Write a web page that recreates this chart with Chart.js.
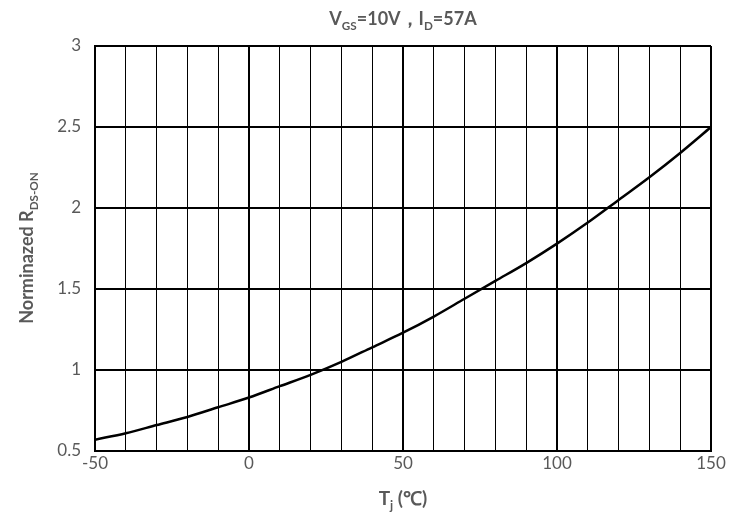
<!DOCTYPE html>
<html><head><meta charset="utf-8">
<script src="https://cdn.jsdelivr.net/npm/chart.js@4/dist/chart.umd.min.js"></script>
<style>html,body{margin:0;padding:0;background:#fff}#w{width:749px;height:527px}</style>
</head><body><div id="w"><canvas id="c"></canvas></div>
<script>
const tj = [-50,-40,-30,-20,-10,0,10,20,30,40,50,60,70,80,90,100,110,120,130,140,150];
const rds = [0.57,0.61,0.66,0.71,0.77,0.83,0.90,0.97,1.05,1.14,1.23,1.33,1.44,1.55,1.66,1.78,1.91,2.05,2.19,2.34,2.50];
const FONT = 'Lato, "Open Sans", sans-serif';
const GRAY = '#595959';
function drawSub(ctx, parts, x, y, size, align) {
  let w = 0;
  parts.forEach(p => { ctx.font = 'bold ' + (p[1] ? size*0.65 : size) + 'px ' + FONT; w += ctx.measureText(p[0]).width; });
  let cx = align === 'center' ? x - w/2 : x;
  ctx.textAlign = 'left'; ctx.textBaseline = 'alphabetic';
  parts.forEach(p => {
    ctx.font = 'bold ' + (p[1] ? size*0.65 : size) + 'px ' + FONT;
    ctx.fillText(p[0], cx, y + (p[1] ? size*0.25 : 0));
    cx += ctx.measureText(p[0]).width;
  });
}
const textPlugin = { id:'txt', afterDraw(chart){
  const ctx = chart.ctx; ctx.save(); ctx.fillStyle = GRAY;
  drawSub(ctx, [['V',0],['GS',1],['=10V，I',0],['D',1],['=57A',0]], 403, 25, 18, 'center');
  drawSub(ctx, [['T',0],['j',1],[' (℃)',0]], 403, 505, 19, 'center');
  ctx.translate(33, 248); ctx.rotate(-Math.PI/2);
  drawSub(ctx, [['Norminazed R',0],['DS-ON',1]], 0, 0, 18, 'center');
  ctx.restore();
}};
new Chart(document.getElementById('c'), {
  type:'line',
  data:{ datasets:[{ data: tj.map((x,i)=>({x, y:rds[i]})), borderColor:'#000', borderWidth:2.5, pointRadius:0, cubicInterpolationMode:'monotone', fill:false }]},
  options:{ responsive:true, maintainAspectRatio:false, animation:false,
    layout:{ padding:{ top:46, right:38, left:0, bottom:0 } },
    plugins:{ legend:{display:false}, tooltip:{enabled:false} },
    scales:{
      x:{ type:'linear', min:-50, max:150,
        ticks:{ stepSize:10, autoSkip:false, maxRotation:0, color:GRAY, font:{size:17, family:FONT}, padding:2,
          callback:v => v % 50 === 0 ? v : '' },
        grid:{ color:'#000', lineWidth:c => (c.tick && c.tick.value % 50 === 0) ? 2 : 1, drawTicks:false },
        border:{ display:true, color:'#000', width:2 },
        afterFit(s){ s.height = 76; } },
      y:{ min:0.5, max:3,
        ticks:{ stepSize:0.5, color:GRAY, font:{size:17, family:FONT}, padding:14, callback:v => String(v) },
        grid:{ color:'#000', lineWidth:2, drawTicks:false },
        border:{ display:true, color:'#000', width:2 },
        afterFit(s){ s.width = 95; } }
    }
  },
  plugins:[textPlugin]
});
</script></body></html>
